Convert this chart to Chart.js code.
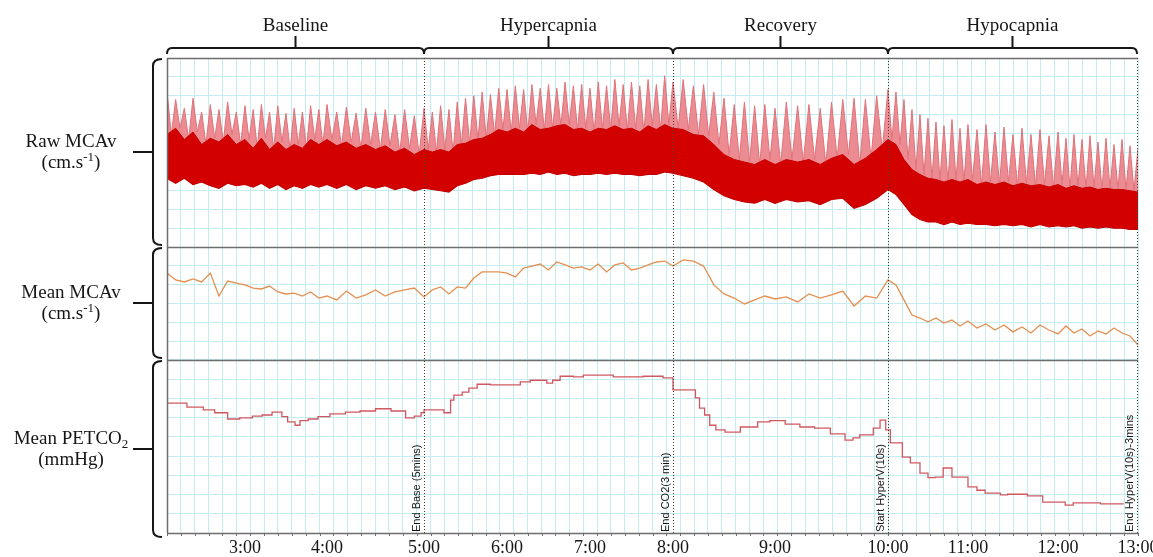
<!DOCTYPE html>
<html lang="en">
<head>
<meta charset="UTF-8">
<title>MCAv and PETCO2 trace</title>
<script src="https://cdn.jsdelivr.net/npm/chart.js"></script>
<style>
  html, body { margin: 0; padding: 0; background: #fff; }
  canvas { display: block; }
</style>
</head>
<body>
<canvas id="trace" width="1153" height="557"></canvas>
<script>
// ---- time axis (minutes) ----
const tickTimes = [3, 4, 5, 6, 7, 8, 9, 10, 11, 12, 13];
const tickLabels = ['3:00', '4:00', '5:00', '6:00', '7:00', '8:00', '9:00', '10:00', '11:00', '12:00', '13:00'];

const phaseNames = ['Baseline', 'Hypercapnia', 'Recovery', 'Hypocapnia'];
const phaseBounds = [2.1, 5, 8, 10, 13];

const eventTimes = [5, 8, 10, 13];
const eventLabels = ['End Base (5mins)', 'End CO2(3 min)', 'Start HyperV(10s)', 'End HyperV(10s)-3mins'];

// ---- traces, one sample every 6 s starting at 2:06 ----
const sampleStart = 2.1;
const sampleStep = 0.1;

// raw MCAv envelope (cm/s): systolic peaks, top of dense core, diastolic troughs
const rawPeak = [
  124, 118, 111, 119, 108, 114, 110, 116, 108, 113,
  110, 114, 108, 113, 107, 111, 108, 113, 110, 114,
  108, 112, 107, 111, 108, 110, 106, 110, 105, 111,
  108, 113, 110, 116, 119, 121, 124, 122, 127, 126,
  129, 126, 130, 127, 130, 127, 132, 129, 130, 127,
  132, 129, 134, 130, 132, 129, 134, 130, 137, 132,
  134, 129, 130, 124, 119, 114, 116, 113, 114, 111,
  116, 113, 114, 111, 116, 118, 119, 118, 121, 126,
  124, 118, 110, 106, 103, 100, 97, 102, 95, 98,
  94, 98, 92, 96, 90, 95, 90, 94, 89, 92,
  87, 90, 86, 89, 84, 87, 82, 86, 81, 79
];
const rawCore = [
  90, 95, 86, 92, 82, 87, 84, 90, 82, 86,
  79, 87, 78, 84, 78, 82, 79, 86, 82, 86,
  81, 84, 79, 82, 78, 81, 76, 79, 74, 78,
  76, 78, 76, 82, 83, 86, 87, 90, 94, 92,
  95, 92, 98, 94, 95, 97, 98, 94, 95, 92,
  95, 94, 97, 94, 95, 92, 97, 94, 98, 95,
  94, 90, 89, 82, 74, 70, 68, 66, 70, 66,
  70, 68, 70, 66, 71, 74, 66, 71, 78, 86,
  82, 70, 62, 58, 55, 54, 52, 54, 52, 54,
  50, 52, 50, 52, 49, 51, 49, 50, 48, 50,
  47, 49, 47, 48, 46, 47, 46, 46, 45, 44
];
const rawTrough = [
  55, 51, 55, 50, 52, 49, 47, 51, 49, 50,
  48, 51, 47, 50, 46, 49, 47, 50, 48, 50,
  47, 50, 46, 49, 47, 49, 46, 48, 45, 47,
  46, 45, 44, 49, 51, 54, 55, 57, 58, 58,
  58, 58, 59, 58, 60, 58, 59, 57, 58, 58,
  59, 58, 59, 58, 58, 57, 58, 58, 60, 59,
  57, 55, 52, 46, 41, 38, 36, 35, 38, 35,
  38, 36, 37, 34, 38, 39, 31, 34, 39, 46,
  42, 34, 26, 22, 20, 20, 18, 20, 18, 19,
  18, 18, 17, 18, 17, 18, 16, 18, 16, 17,
  16, 17, 15, 16, 15, 16, 15, 15, 14, 14
];

// mean MCAv (cm/s)
const meanMCAv = [
  65.9, 62.2, 61.1, 62.7, 61.1, 65.9, 53.5, 61.6, 60.5, 59.5,
  57.8, 57.3, 58.9, 55.7, 54.6, 55.1, 53.5, 55.7, 52.4, 53.5,
  51.4, 56.2, 52.4, 54.1, 56.8, 53.5, 55.7, 56.8, 57.8, 53.0,
  56.8, 58.4, 54.6, 58.4, 57.8, 63.2, 66.5, 66.5, 66.5, 65.9,
  63.8, 68.6, 69.7, 70.8, 67.6, 71.9, 70.3, 68.6, 69.2, 67.6,
  70.8, 66.5, 70.3, 71.4, 67.6, 68.6, 70.3, 71.9, 72.4, 69.7,
  73.0, 72.4, 69.7, 59.5, 54.6, 52.4, 49.2, 51.4, 53.5, 51.9,
  53.0, 50.3, 54.6, 52.4, 54.1, 56.2, 48.1, 53.5, 52.4, 62.2,
  59.5, 51.4, 43.2, 41.6, 39.5, 41.6, 38.9, 40.5, 37.3, 40.0,
  36.2, 38.4, 35.1, 37.8, 34.1, 36.8, 33.5, 37.8, 35.1, 33.0,
  37.3, 33.5, 35.7, 31.9, 34.6, 33.0, 36.2, 33.5, 31.9, 27.0
];

// breath-by-breath mean PETCO2 (mmHg), value held from each time until the next
const petTimes = [
  2.1, 2.33, 2.52, 2.65, 2.80, 2.94, 3.09, 3.21, 3.33, 3.45, 3.52, 3.61, 3.67, 3.77, 3.89,
  4.03, 4.19, 4.34, 4.5, 4.66, 4.81, 4.9, 4.97, 5.0, 5.24, 5.32, 5.36, 5.46, 5.54, 5.64, 5.80,
  6.16, 6.28, 6.48, 6.55, 6.64, 6.80, 6.92, 7.28, 7.64, 7.88,
  8.0, 8.22, 8.26, 8.31, 8.36, 8.42, 8.51, 8.66, 8.83, 8.95,
  9.09, 9.22, 9.35, 9.49, 9.62, 9.69, 9.75, 9.87, 9.93, 9.98,
  10.03, 10.18, 10.28, 10.4, 10.5, 10.59, 10.69, 10.8,
  11.0, 11.1, 11.19, 11.36, 11.44, 11.66, 11.83, 12.09, 12.19, 12.53, 12.62, 12.82
];
const petValues = [
  42.5, 42.8, 42.1, 41.6, 41.1, 40.0, 40.2, 40.5, 40.7, 41.2, 40.4, 39.5, 38.9, 39.7, 40.0,
  40.4, 40.9, 41.2, 41.4, 41.8, 41.4, 40.2, 40.5, 41.1, 41.6, 41.1, 43.3, 44.2, 44.7, 45.4, 46.1,
  46.0, 46.5, 46.8, 46.3, 46.8, 47.5, 47.4, 47.7, 47.4, 47.5,
  47.2, 45.1, 43.7, 41.9, 40.7, 38.9, 38.1, 37.7, 38.6, 39.5,
  39.7, 39.1, 38.6, 38.4, 37.4, 36.3, 36.7, 37.2, 38.4, 39.8,
  38.1, 35.8, 33.3, 32.3, 30.5, 29.7, 29.8, 31.4,
  29.8, 28.1, 27.5, 27.0, 26.7, 26.8, 26.5, 25.4, 24.9, 25.3, 25.1, 25.1
];

// panel titles (text, kind) where kind is n / sup / sub
const panelTitles = {
  y1: [[['Raw MCAv', 'n']], [['(cm.s', 'n'], ['-1', 'sup'], [')', 'n']]],
  y2: [[['Mean MCAv', 'n']], [['(cm.s', 'n'], ['-1', 'sup'], [')', 'n']]],
  y3: [[['Mean PETCO', 'n'], ['2', 'sub']], [['(mmHg)', 'n']]]
};

// ---- styling ----
const gridColor = 'rgb(196,236,241)';
const frameColor = '#6e6e6e';
const inkColor = '#161616';
const serif = '"Liberation Serif", "Times New Roman", serif';
const gridCols = 70;

// recorder time axis is not linear: each minute gets its own width
const knotTimes = [2.1, 3, 4, 5, 6, 7, 8, 9, 10, 11, 12, 13];
const knotFractions = [0, 0.0803, 0.1648, 0.2647, 0.3502, 0.4356, 0.5211, 0.6262, 0.7425, 0.8249, 0.9176, 1];

class SegmentScale extends Chart.LinearScale {
  getPixelForValue(value) {
    if (value === null || value === undefined || isNaN(value)) return NaN;
    let i = 1;
    while (i < knotTimes.length - 1 && value > knotTimes[i]) i++;
    const t0 = knotTimes[i - 1], t1 = knotTimes[i];
    const f0 = knotFractions[i - 1], f1 = knotFractions[i];
    return this.getPixelForDecimal(f0 + (value - t0) / (t1 - t0) * (f1 - f0));
  }
  getValueForPixel(pixel) {
    const d = this.getDecimalForPixel(pixel);
    let i = 1;
    while (i < knotFractions.length - 1 && d > knotFractions[i]) i++;
    const f0 = knotFractions[i - 1], f1 = knotFractions[i];
    return knotTimes[i - 1] + (d - f0) / (f1 - f0) * (knotTimes[i] - knotTimes[i - 1]);
  }
}
SegmentScale.id = 'segment';
SegmentScale.defaults = {};
Chart.register(SegmentScale);

const sampleTimes = meanMCAv.map((_, i) => +(sampleStart + i * sampleStep).toFixed(2));
const pts = vals => vals.map((v, i) => ({ x: sampleTimes[i], y: v }));
// systolic spike at each sample, falling back to the dense core half a step later
const spikes = (hi, lo) => hi.flatMap((v, i) => [
  { x: sampleTimes[i], y: v },
  { x: sampleTimes[i] + sampleStep / 2, y: lo[i] }
]);

function evenTicks(n) {
  return s => {
    s.ticks = [];
    for (let i = 0; i <= n; i++) s.ticks.push({ value: s.min + (s.max - s.min) * i / n });
  };
}

function panelAxis(weight, order, min, max, rows) {
  return {
    type: 'linear', position: 'left', stack: 'panels', stackWeight: weight, weight: order,
    min: min, max: max,
    afterBuildTicks: evenTicks(rows),
    ticks: { display: false },
    grid: { color: gridColor, drawTicks: false },
    border: { display: false },
    afterFit: s => { s.width = 0; }
  };
}

function drawRich(ctx, parts, cx, y, size) {
  const fontFor = kind => (kind === 'n' ? size : Math.round(size * 0.66)) + 'px ' + serif;
  ctx.textAlign = 'left';
  let w = 0;
  parts.forEach(p => { ctx.font = fontFor(p[1]); w += ctx.measureText(p[0]).width; });
  let x = cx - w / 2;
  parts.forEach(p => {
    ctx.font = fontFor(p[1]);
    const dy = p[1] === 'sup' ? -size * 0.36 : p[1] === 'sub' ? size * 0.2 : 0;
    ctx.fillText(p[0], x, y + dy);
    x += ctx.measureText(p[0]).width;
  });
}

const decorations = {
  id: 'decorations',
  afterDatasetsDraw(chart) {
    const ctx = chart.ctx, area = chart.chartArea, xs = chart.scales.x;
    ctx.save();
    // panel frames
    ctx.strokeStyle = frameColor;
    ctx.lineWidth = 1.5;
    ctx.beginPath();
    ['y1', 'y2', 'y3'].forEach(id => {
      const y = Math.round(chart.scales[id].top) + 0.5;
      ctx.moveTo(area.left, y); ctx.lineTo(area.right, y);
    });
    ctx.moveTo(area.left, Math.round(area.bottom) + 0.5);
    ctx.lineTo(area.right, Math.round(area.bottom) + 0.5);
    ctx.moveTo(Math.round(area.left) + 0.5, area.top);
    ctx.lineTo(Math.round(area.left) + 0.5, area.bottom);
    ctx.stroke();

    // small ticks under the time axis
    const xg = chart.scales.xg;
    ctx.lineWidth = 1;
    ctx.beginPath();
    xg.ticks.forEach(t => {
      const x = Math.round(xg.getPixelForValue(t.value)) + 0.5;
      ctx.moveTo(x, area.bottom); ctx.lineTo(x, area.bottom + 3);
    });
    ctx.stroke();

    // event markers
    ctx.strokeStyle = '#3c3c3c';
    ctx.setLineDash([1, 2]);
    eventTimes.forEach((t, i) => {
      const x = Math.min(Math.round(xs.getPixelForValue(t)), Math.round(area.right) - 1) + 0.5;
      ctx.beginPath();
      ctx.moveTo(x, area.top); ctx.lineTo(x, area.bottom);
      ctx.stroke();
      ctx.save();
      ctx.translate(x - 2, area.bottom - 1);
      ctx.rotate(-Math.PI / 2);
      ctx.fillStyle = inkColor;
      ctx.font = '11px "Liberation Sans", Arial, sans-serif';
      ctx.textAlign = 'left';
      ctx.textBaseline = 'bottom';
      ctx.fillText(eventLabels[i], 0, 0);
      ctx.restore();
    });
    ctx.restore();
  },
  afterDraw(chart) {
    const ctx = chart.ctx, area = chart.chartArea, xs = chart.scales.x;
    ctx.save();
    ctx.strokeStyle = inkColor;
    ctx.fillStyle = inkColor;
    ctx.lineWidth = 2;
    ctx.textBaseline = 'alphabetic';

    // phase brackets along the top
    const yb = 48;
    for (let i = 0; i < phaseNames.length; i++) {
      const a = xs.getPixelForValue(phaseBounds[i]);
      const b = Math.min(xs.getPixelForValue(phaseBounds[i + 1]), area.right - 1);
      const m = (a + b) / 2;
      ctx.beginPath();
      ctx.moveTo(a, yb + 6);
      ctx.quadraticCurveTo(a, yb, a + 5, yb);
      ctx.lineTo(b - 5, yb);
      ctx.quadraticCurveTo(b, yb, b, yb + 6);
      ctx.moveTo(m, yb);
      ctx.lineTo(m, yb - 12);
      ctx.stroke();
      ctx.font = '19px ' + serif;
      ctx.textAlign = 'center';
      ctx.fillText(phaseNames[i], m, 31);
    }

    // panel braces and titles on the left
    const xb = 153;
    ['y1', 'y2', 'y3'].forEach((id, k) => {
      const s = chart.scales[id];
      const top = s.top + 1;
      const bot = k === 2 ? s.bottom + 4 : s.bottom - 2;
      const mid = (top + bot) / 2;
      ctx.beginPath();
      ctx.moveTo(xb + 9, top);
      ctx.quadraticCurveTo(xb, top, xb, top + 7);
      ctx.lineTo(xb, bot - 7);
      ctx.quadraticCurveTo(xb, bot, xb + 9, bot);
      ctx.moveTo(133, mid);
      ctx.lineTo(xb, mid);
      ctx.stroke();
      const lines = panelTitles[id];
      drawRich(ctx, lines[0], 71, mid - 5, 19);
      drawRich(ctx, lines[1], 71, mid + 16, 19);
    });
    ctx.restore();
  }
};

new Chart(document.getElementById('trace'), {
  type: 'line',
  data: {
    datasets: [
      {
        label: 'Mean PETCO2',
        data: petTimes.map((t, i) => ({ x: t, y: petValues[i] })),
        yAxisID: 'y3', stepped: 'after',
        borderColor: '#cf5860', borderWidth: 1.3, pointRadius: 0, fill: false
      },
      {
        label: 'Mean MCAv',
        data: pts(meanMCAv),
        yAxisID: 'y2',
        borderColor: '#e58f50', borderWidth: 1.3, pointRadius: 0, fill: false
      },
      {
        label: 'Raw MCAv troughs',
        data: pts(rawTrough),
        yAxisID: 'y1',
        borderColor: '#c20000', borderWidth: 1.2, pointRadius: 0, fill: false
      },
      {
        label: 'Raw MCAv core',
        data: pts(rawCore),
        yAxisID: 'y1',
        borderColor: '#c80000', backgroundColor: '#d30000', borderWidth: 1, pointRadius: 0, fill: 2
      },
      {
        label: 'Raw MCAv peaks',
        data: spikes(rawPeak, rawCore),
        yAxisID: 'y1',
        borderColor: '#df7279', backgroundColor: 'rgb(236,140,146)', borderWidth: 1, pointRadius: 0, fill: 2
      }
    ]
  },
  options: {
    responsive: false,
    animation: false,
    events: [],
    layout: { padding: { top: 58, left: 167, right: 15, bottom: 0 } },
    plugins: { legend: { display: false }, tooltip: { enabled: false } },
    scales: {
      x: {
        type: 'segment', position: 'bottom', min: 2.1, max: 13,
        afterBuildTicks: s => { s.ticks = tickTimes.map(v => ({ value: v })); },
        grid: { display: false, drawTicks: false },
        border: { display: false },
        ticks: {
          autoSkip: false, maxRotation: 0, padding: 4, color: inkColor,
          font: { family: serif, size: 18 },
          callback: (v, i) => tickLabels[i]
        },
        afterFit: s => { s.height = 24; s.paddingLeft = 0; s.paddingRight = 0; }
      },
      xg: {
        type: 'linear', position: 'top', min: 0, max: gridCols,
        afterBuildTicks: evenTicks(gridCols),
        ticks: { display: false },
        grid: { color: gridColor, drawTicks: false },
        border: { display: false },
        afterFit: s => { s.height = 0; }
      },
      y1: panelAxis(189, 3, 0, 151.2, 10),
      y2: panelAxis(113, 2, 18.9, 80, 6),
      y3: panelAxis(173, 1, 20, 50.35, 9)
    }
  },
  plugins: [decorations]
});
</script>
</body>
</html>
